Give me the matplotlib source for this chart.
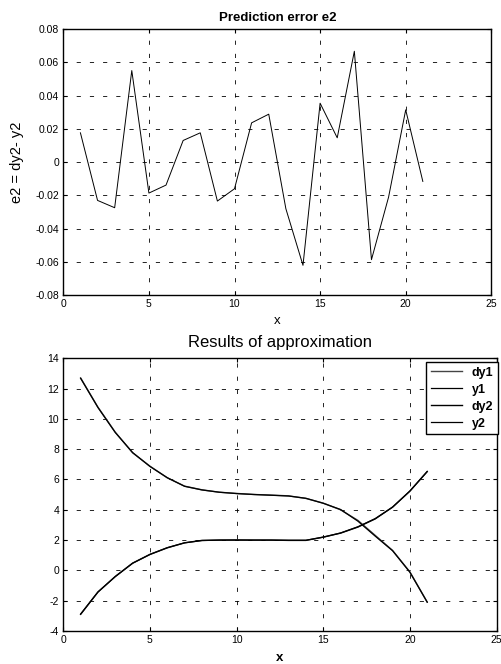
import matplotlib
matplotlib.use("Agg")
import matplotlib.pyplot as plt

plt.rcParams['font.family'] = ['Liberation Sans', 'DejaVu Sans']
plt.rcParams['lines.scale_dashes'] = False
plt.rcParams['axes.unicode_minus'] = False

# ---- data ----
x = list(range(1, 22))
e2 = [0.0176, -0.0230, -0.0274, 0.0550, -0.0186, -0.0138, 0.0130, 0.0176,
      -0.0234, -0.0160, 0.0236, 0.0288, -0.0280, -0.0620, 0.0354, 0.0146,
      0.0666, -0.0586, -0.0210, 0.0314, -0.0116]

dy1 = [12.70, 10.77, 9.12, 7.76, 6.88, 6.11, 5.56, 5.32, 5.16, 5.08, 5.01,
       4.97, 4.92, 4.75, 4.44, 4.00, 3.30, 2.31, 1.32, -0.10, -2.09]
y1 = [12.68, 10.75, 9.10, 7.78, 6.86, 6.12, 5.55, 5.31, 5.16, 5.07, 5.01,
      4.96, 4.91, 4.76, 4.43, 4.02, 3.25, 2.26, 1.30, -0.12, -2.10]
dy2 = [-2.90, -1.43, -0.40, 0.48, 1.05, 1.49, 1.82, 1.98, 2.00, 2.00, 2.00,
       2.00, 1.98, 1.98, 2.20, 2.46, 2.86, 3.40, 4.18, 5.23, 6.53]
y2 = [-2.88, -1.42, -0.41, 0.47, 1.06, 1.50, 1.82, 1.97, 2.00, 2.01, 2.00,
      2.00, 1.99, 1.99, 2.19, 2.47, 2.88, 3.42, 4.17, 5.24, 6.52]

xticks = [0, 5, 10, 15, 20, 25]
top_yticks = [-0.08, -0.06, -0.04, -0.02, 0, 0.02, 0.04, 0.06, 0.08]
top_ylabels = ['-0.08', '-0.06', '-0.04', '-0.02', '0', '0.02', '0.04', '0.06', '0.08']
bot_yticks = [-4, -2, 0, 2, 4, 6, 8, 10, 12, 14]

fig = plt.figure(figsize=(5.02, 6.64), dpi=100)

grid_kw = dict(color='black', linestyle=(0, (3.0, 6.5)), linewidth=0.6)

def style(ax):
    for s in ax.spines.values():
        s.set_linewidth(1.0)
    ax.tick_params(direction='in', length=3, width=0.8, labelsize=7.5, pad=3,
                   top=True, right=True, colors='black')
    ax.grid(True, **grid_kw)

# ---- top axes ----
ax1 = fig.add_axes([0.1261, 0.5553, 0.8526, 0.4011])
ax1.plot(x, e2, color='black', linewidth=0.7)
ax1.set_xlim(0, 25)
ax1.set_ylim(-0.08, 0.08)
ax1.set_xticks(xticks)
ax1.set_yticks(top_yticks)
ax1.set_yticklabels(top_ylabels)
style(ax1)
ax1.set_title('Prediction error e2', fontsize=9.5, fontweight='bold', pad=6)
ax1.set_xlabel('x', fontsize=9.5, labelpad=4)
ax1.set_ylabel('e2 = dy2- y2', fontsize=10.5, labelpad=8)

# ---- bottom axes ----
ax2 = fig.add_axes([0.1261, 0.0497, 0.863, 0.4107])
ax2.plot(x, dy1, color='#444444', linewidth=1.0, label='dy1')
ax2.plot(x, y1, color='black', linewidth=0.9, label='y1')
ax2.plot(x, dy2, color='black', linewidth=1.0, label='dy2')
ax2.plot(x, y2, color='black', linewidth=0.9, label='y2')
ax2.set_xlim(0, 25)
ax2.set_ylim(-4, 14)
ax2.set_xticks(xticks)
ax2.set_yticks(bot_yticks)
style(ax2)
ax2.set_title('Results of approximation', fontsize=12, pad=8)
ax2.set_xlabel('x', fontsize=9.5, fontweight='bold', labelpad=5)
leg = ax2.legend(loc='upper right', bbox_to_anchor=(1.003, 0.985),
                 prop={'weight': 'bold', 'size': 9}, frameon=True, fancybox=False,
                 handlelength=2.5, handletextpad=0.8, borderpad=0.35,
                 labelspacing=0.4, borderaxespad=0.0)
leg.get_frame().set_edgecolor('black')
leg.get_frame().set_linewidth(1.0)
leg.get_frame().set_alpha(1.0)

fig.savefig('out.png', dpi=100)
